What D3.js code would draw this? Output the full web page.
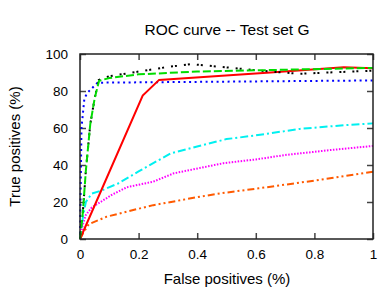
<!DOCTYPE html>
<html>
<head>
<meta charset="utf-8">
<script src="https://cdn.jsdelivr.net/npm/d3@7"></script>
<style>
  body { margin: 0; background: #fff; }
  text { font-family: "Liberation Sans", Arial, sans-serif; fill: #000; }
</style>
</head>
<body>
<svg id="chart"></svg>
<script>
const width = 382;
const height = 295;

// ROC curves, [false positive rate, true positive %]
const redCurve = [[0,0],[0.214,77.5],[0.27,86],[0.65,90],[0.9,92.8],[1,92.3]];
const greenCurve = [[0,0],[0.01,15],[0.02,37],[0.035,62],[0.05,76],[0.065,85.5],[0.1,87],[0.2,89],[0.4,90.5],[0.7,91.5],[1,92.5]];
const blackCurve = [[0,0],[0.01,15],[0.02,37],[0.035,62],[0.05,76],[0.064,86],[0.1,88],[0.2,90.5],[0.3,93],[0.38,94.5],[0.45,93.5],[0.55,92],[0.65,90.5],[0.75,89.3],[0.85,90],[1,91]];
const blueCurve = [[0,0],[0.005,60],[0.015,76],[0.025,79],[0.06,84.5],[1,85.7]];
const cyanCurve = [[0,0],[0.01,12],[0.02,20],[0.04,24.5],[0.07,26],[0.13,30],[0.2,36.5],[0.25,41],[0.31,46.3],[0.4,50],[0.5,54],[0.6,56],[0.75,59.5],[0.9,61.5],[1,62.5]];
const magentaCurve = [[0,0],[0.01,8],[0.02,13],[0.04,17],[0.07,20],[0.11,24],[0.16,28],[0.25,31],[0.32,35.5],[0.49,41],[0.6,43],[0.7,45.4],[0.85,48],[1,50.3]];
const orangeCurve = [[0,0],[0.01,3],[0.03,8],[0.09,12],[0.16,14.8],[0.25,18.3],[0.41,22.9],[0.48,24.7],[0.61,27.4],[0.82,32],[1,36.4]];

const xTicks = [0, 0.2, 0.4, 0.6, 0.8, 1];
const yTicks = [0, 20, 40, 60, 80, 100];

const series = [
  { data: orangeCurve, color: '#ff5a00', dash: '7,3,2,3,2,3' },
  { data: magentaCurve, color: '#ff00ff', dash: '1.5,1.5' },
  { data: cyanCurve, color: '#00f0f0', dash: '8,3,2,3' },
  { data: blueCurve, color: '#0000ff', dash: '2,3.5' },
  { data: redCurve, color: '#ff0000', dash: null },
  { data: blackCurve, color: '#000000', dash: '2,2,2,7' },
  { data: greenCurve, color: '#00dd00', dash: '8,3' }
];

const margin = { top: 54, right: 9, bottom: 56, left: 80 };

const svg = d3.select('#chart')
  .attr('width', width)
  .attr('height', height);

const x = d3.scaleLinear().domain([0, 1]).range([margin.left, width - margin.right]);
const y = d3.scaleLinear().domain([0, 100]).range([height - margin.bottom, margin.top]);

const fmtX = d => d === 0 || d === 1 ? d3.format('d')(d) : d3.format('.1f')(d);

// axes with inward ticks on all four sides
svg.append('g')
  .attr('transform', `translate(0,${y(0)})`)
  .call(d3.axisBottom(x).tickValues(xTicks).tickSize(-6).tickPadding(10).tickFormat(fmtX))
  .call(g => g.selectAll('text').attr('font-size', 13.5));

svg.append('g')
  .attr('transform', `translate(0,${y(100)})`)
  .call(d3.axisTop(x).tickValues(xTicks).tickSize(-6).tickFormat(''));

svg.append('g')
  .attr('transform', `translate(${x(0)},0)`)
  .call(d3.axisLeft(y).tickValues(yTicks).tickSize(-6).tickPadding(12))
  .call(g => g.selectAll('text').attr('font-size', 13.5));

svg.append('g')
  .attr('transform', `translate(${x(1)},0)`)
  .call(d3.axisRight(y).tickValues(yTicks).tickSize(-6).tickFormat(''));

svg.selectAll('.domain').remove();
svg.selectAll('.tick line').attr('stroke', '#444').attr('stroke-width', 1.5);
svg.selectAll('.tick text').attr('fill', '#000');

const line = d3.line().x(d => x(d[0])).y(d => y(d[1]));

svg.selectAll('path.curve')
  .data(series)
  .enter()
  .append('path')
    .attr('class', 'curve')
    .attr('d', d => line(d.data))
    .attr('fill', 'none')
    .attr('stroke', d => d.color)
    .attr('stroke-width', 2)
    .attr('stroke-dasharray', d => d.dash);

// frame
svg.append('rect')
  .attr('x', x(0))
  .attr('y', y(100))
  .attr('width', x(1) - x(0))
  .attr('height', y(0) - y(100))
  .attr('fill', 'none')
  .attr('stroke', '#222')
  .attr('stroke-width', 1.5);

svg.append('text')
  .attr('x', 227)
  .attr('y', 35)
  .attr('text-anchor', 'middle')
  .attr('font-size', 15.5)
  .text('ROC curve -- Test set G');

svg.append('text')
  .attr('x', 227)
  .attr('y', 284)
  .attr('text-anchor', 'middle')
  .attr('font-size', 15)
  .text('False positives (%)');

svg.append('text')
  .attr('transform', `translate(20,${(y(0) + y(100)) / 2}) rotate(-90)`)
  .attr('text-anchor', 'middle')
  .attr('font-size', 15)
  .text('True positives (%)');
</script>
</body>
</html>
